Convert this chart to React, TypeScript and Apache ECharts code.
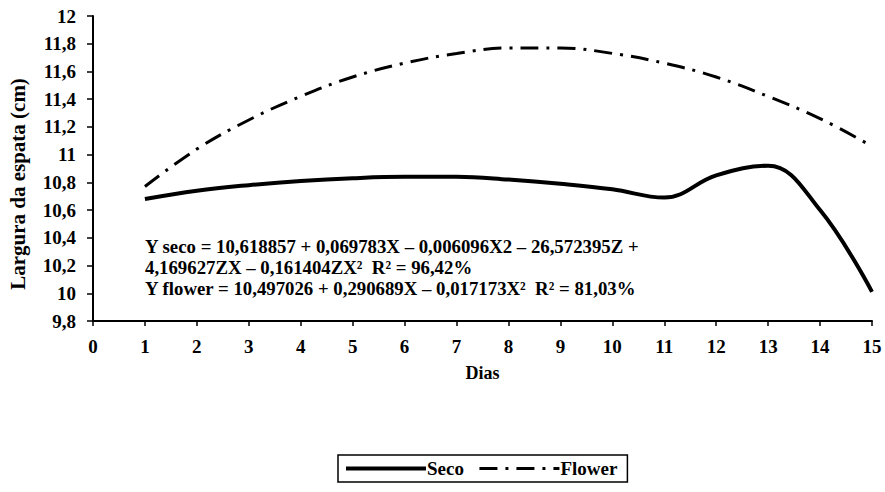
import React, { useEffect, useRef } from "react";
import * as echarts from "echarts";

const dias = [1, 2, 3, 4, 5, 6, 7, 8, 9, 10, 11, 12, 13, 14, 15];
const secoValues = [10.68, 10.74, 10.78, 10.81, 10.83, 10.84, 10.84, 10.82, 10.79, 10.75, 10.69, 10.85, 10.92, 10.6, 10.01];
const flowerValues = [10.77, 11.04, 11.25, 11.42, 11.56, 11.66, 11.73, 11.77, 11.77, 11.73, 11.66, 11.56, 11.42, 11.26, 11.06];
const equationLines = [
  "Y seco = 10,618857 + 0,069783X \u2013 0,006096X2 \u2013 26,572395Z +",
  "4,169627ZX \u2013 0,161404ZX\u00b2  R\u00b2 = 96,42%",
  "Y flower = 10,497026 + 0,290689X \u2013 0,017173X\u00b2  R\u00b2 = 81,03%",
];
const seriesNames = ["Seco", "Flower"];
const yTitle = "Largura da espata (cm)";

const FONT = "'Liberation Serif', 'Times New Roman', serif";

export default function App() {
  const ref = useRef<HTMLDivElement>(null);
  useEffect(() => {
    if (!ref.current) return;
    const chart = echarts.init(ref.current, undefined, { renderer: "svg" });
    const fmt = (v: number) => {
      const r = Math.round(v * 10) / 10;
      return Number.isInteger(r) ? String(r) : r.toFixed(1).replace(".", ",");
    };
    chart.setOption({
      animation: false,
      backgroundColor: "#fff",
      grid: { left: 93, right: 13, top: 16, bottom: 171 },
      xAxis: {
        type: "value",
        min: 0,
        max: 15,
        interval: 1,
        name: "Dias",
        nameLocation: "middle",
        nameGap: 43,
        nameTextStyle: { fontFamily: FONT, fontWeight: "bold", fontSize: 18, color: "#000" },
        axisLine: { lineStyle: { color: "#000", width: 2 } },
        axisTick: { show: true, length: 5, lineStyle: { color: "#000", width: 1.5 } },
        splitLine: { show: false },
        axisLabel: { fontFamily: FONT, fontWeight: "bold", fontSize: 19, color: "#000", margin: 16 },
      },
      yAxis: {
        type: "value",
        min: 9.8,
        max: 12,
        interval: 0.2,
        axisLine: { show: true, lineStyle: { color: "#000", width: 2 } },
        axisTick: { show: true, length: 6, lineStyle: { color: "#000", width: 1.5 } },
        splitLine: { show: false },
        axisLabel: { fontFamily: FONT, fontWeight: "bold", fontSize: 19, color: "#000", margin: 17, formatter: fmt },
      },
      legend: {
        left: 338,
        top: 455,
        data: [
          { name: seriesNames[0], lineStyle: { width: 4 } },
          { name: seriesNames[1], lineStyle: { width: 3 } },
        ],
        itemWidth: 80,
        itemHeight: 10,
        itemGap: 14,
        itemStyle: { opacity: 0 },
        borderColor: "#000",
        borderWidth: 1.5,
        padding: [4, 10, 4, 6],
        textStyle: { fontFamily: FONT, fontWeight: "bold", fontSize: 19, color: "#000", padding: [0, 0, 0, -4] },
      },
      graphic: [
        ...equationLines.map((t, i) => ({
          type: "text",
          left: 145,
          top: 237 + i * 21,
          style: { text: t, fontFamily: FONT, fontWeight: "bold", fontSize: 18.8, fill: "#000" },
        })),
        {
          type: "text",
          x: 18,
          y: 184,
          rotation: Math.PI / 2,
          style: {
            text: yTitle,
            fontFamily: FONT,
            fontWeight: "bold",
            fontSize: 21,
            fill: "#000",
            textAlign: "center",
            textVerticalAlign: "middle",
          },
        },
      ],
      series: [
        {
          name: seriesNames[0],
          type: "line",
          smooth: 0.4,
          symbol: "none",
          data: dias.map((d, i) => [d, secoValues[i]]),
          lineStyle: { color: "#000", width: 4 },
          itemStyle: { color: "#000" },
        },
        {
          name: seriesNames[1],
          type: "line",
          smooth: 0.4,
          symbol: "none",
          data: dias.map((d, i) => [d, flowerValues[i]]),
          lineStyle: { color: "#000", width: 3, type: [18, 8, 3, 8] },
          itemStyle: { color: "#000" },
        },
      ],
    });
    return () => chart.dispose();
  }, []);
  return <div ref={ref} style={{ position: "fixed", left: 0, top: 0, width: 885, height: 492 }} />;
}
